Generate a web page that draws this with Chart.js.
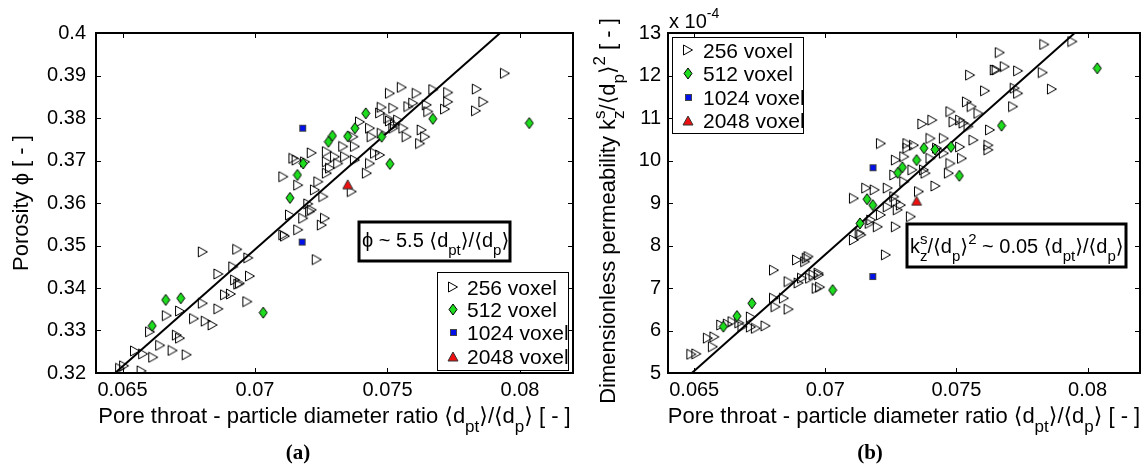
<!DOCTYPE html>
<html>
<head>
<meta charset="utf-8">
<script src="https://cdn.jsdelivr.net/npm/chart.js@4.4.0/dist/chart.umd.min.js"></script>
<style>
  body { margin: 0; background: #fff; width: 1145px; height: 467px; overflow: hidden; position: relative; }
  .panel { position: absolute; top: 0; height: 467px; }
</style>
</head>
<body>
<div class="panel" style="left:0;width:580px"><canvas id="porosity" width="580" height="467"></canvas></div>
<div class="panel" style="left:580px;width:565px"><canvas id="perm" width="565" height="467"></canvas></div>
<script>
// axis ticks
const xTicks = [0.065, 0.07, 0.075, 0.08];
const xTickLabels = ['0.065', '0.07', '0.075', '0.08'];
const phiTicks = [0.32, 0.33, 0.34, 0.35, 0.36, 0.37, 0.38, 0.39, 0.4];
const phiTickLabels = ['0.32', '0.33', '0.34', '0.35', '0.36', '0.37', '0.38', '0.39', '0.4'];
const permTicks = [5, 6, 7, 8, 9, 10, 11, 12, 13];
const permTickLabels = ['5', '6', '7', '8', '9', '10', '11', '12', '13'];
const seriesNames = ['256 voxel', '512 voxel', '1024 voxel', '2048 voxel'];

// (a) porosity vs <dpt>/<dp>
const phi256 = [[0.06491,0.3211],[0.06506,0.3217],[0.06572,0.3205],[0.06547,0.3252],[0.06578,0.3245],[0.06616,0.3237],
  [0.06604,0.3297],[0.06642,0.3265],[0.06667,0.3335],[0.06689,0.3253],[0.06705,0.3289],[0.06717,0.3282],[0.06717,0.3346],
  [0.06742,0.3243],[0.0677,0.3328],[0.06803,0.3364],[0.06803,0.3485],[0.06814,0.3322],[0.0684,0.3313],[0.06862,0.3351],
  [0.06862,0.3433],[0.06887,0.3384],[0.06909,0.3386],[0.06918,0.345],[0.06933,0.3491],[0.06925,0.3419],[0.06937,0.3409],
  [0.06943,0.3411],[0.06975,0.3471],[0.06981,0.3428],[0.06971,0.3368],[0.07132,0.3572],[0.07113,0.3522],[0.07163,0.3537],
  [0.07943,0.3905],[0.07509,0.3858],[0.07554,0.3872],[0.0761,0.3858],[0.07673,0.3867],[0.07729,0.386],[0.07837,0.3868],
  [0.07862,0.3838],[0.07834,0.3817],[0.07729,0.3838],[0.07717,0.3821],[0.07648,0.3831],[0.07654,0.3815],[0.07579,0.3827],
  [0.07597,0.3835],[0.07478,0.3825],[0.07522,0.3823],[0.07472,0.3812],[0.07503,0.3799],[0.07528,0.3784],[0.07522,0.3776],
  [0.0756,0.3776],[0.07572,0.3756],[0.07629,0.3772],[0.07623,0.374],[0.07642,0.3756],[0.07396,0.3791],[0.07434,0.3776],
  [0.0744,0.3756],[0.07478,0.3764],[0.07371,0.3756],[0.07377,0.3733],[0.07333,0.3733],[0.0734,0.3709],[0.07302,0.3709],
  [0.07271,0.3721],[0.07214,0.3718],[0.07271,0.3697],[0.07283,0.3682],[0.07271,0.367],[0.07314,0.3693],[0.07377,0.3701],
  [0.07422,0.367],[0.07434,0.3693],[0.07472,0.3713],[0.07453,0.3717],[0.07157,0.3701],[0.07163,0.3642],[0.07107,0.3662],
  [0.07239,0.365],[0.07226,0.3631],[0.07258,0.3615],[0.07365,0.3627],[0.07201,0.3598],[0.07208,0.358],[0.07182,0.3564],
  [0.07264,0.3564],[0.07233,0.3467],[0.07107,0.3525],[0.07214,0.3584],[0.07252,0.3548],[0.07509,0.3793],[0.0754,0.3795],
  [0.07145,0.3705],[0.07189,0.3697]];
const phi512 = [[0.06612,0.3311],[0.06663,0.3372],[0.0672,0.3376],[0.07031,0.3342],[0.07418,0.3811],[0.0735,0.3757],
  [0.07377,0.3776],[0.07292,0.3758],[0.07277,0.3744],[0.07671,0.3798],[0.08035,0.3788],[0.07509,0.3692],[0.07182,0.3693],
  [0.0716,0.3666],[0.07132,0.3612],[0.07478,0.3756]];
const phi1024 = [[0.0718,0.3776],[0.07178,0.3508]];
const phi2048 = [[0.0735,0.3644]];
const phiFit = [[0.06472,0.32],[0.07925,0.40]];

// (b) dimensionless permeability (x 10^-4) vs <dpt>/<dp>
const perm256 = [[0.06489,5.44],[0.06508,5.45],[0.06552,5.82],[0.06577,5.85],[0.06571,5.62],[0.06603,6.13],[0.06628,6.15],
  [0.06646,6.21],[0.06672,6.18],[0.06684,6.09],[0.06716,6.32],[0.06716,6.08],[0.06735,6.05],[0.06772,6.11],[0.06804,7.42],
  [0.06804,6.76],[0.0681,6.56],[0.06842,6.76],[0.0686,6.5],[0.0686,7.15],[0.06898,7.12],[0.06892,7.66],[0.06936,7.74],
  [0.06911,7.23],[0.06942,7.23],[0.06955,7.31],[0.06976,7.31],[0.06967,6.99],[0.0698,7.02],[0.07109,8.13],[0.07137,8.25],
  [0.07109,9.11],[0.07156,9.35],[0.07188,9.31],[0.07169,8.52],[0.07175,8.6],[0.06929,7.7],[0.06923,7.62],[0.07552,12.01],
  [0.07609,11.64],[0.07646,12.13],[0.0754,11.38],[0.07558,11.27],[0.07477,11.15],[0.07514,10.95],[0.07489,10.91],
  [0.07527,10.88],[0.07546,10.8],[0.07408,10.95],[0.0737,10.86],[0.07584,11.11],[0.07628,10.72],[0.07565,10.48],
  [0.07622,10.36],[0.07622,10.25],[0.07514,10.32],[0.07521,10.05],[0.07477,9.93],[0.07471,9.7],[0.07452,10.52],
  [0.07401,10.52],[0.07313,10.4],[0.07338,10.36],[0.07313,10.29],[0.07426,10.29],[0.07452,10.17],[0.07401,10.05],
  [0.07376,9.78],[0.07382,9.7],[0.07332,9.78],[0.07301,10.09],[0.07269,10.01],[0.07263,9.66],[0.07301,9.5],[0.0742,9.4],
  [0.07212,10.4],[0.07238,9.35],[0.07263,9.15],[0.07269,9.03],[0.07288,8.95],[0.07326,8.68],[0.07276,8.84],[0.07212,8.72],
  [0.072,8.44],[0.07269,8.44],[0.07238,8.91],[0.07357,9.27],[0.07231,7.78],[0.07131,8.29],[0.06974,7.35],[0.07835,12.73],
  [0.07942,12.8],[0.07665,12.54],[0.07653,12.13],[0.07684,12.21],[0.07735,12.11],[0.07829,12.07],[0.07864,11.68],
  [0.07722,11.7],[0.07735,11.58],[0.07716,11.27]];
const perm512 = [[0.06611,6.09],[0.06663,6.34],[0.0672,6.64],[0.07028,6.95],[0.07132,8.52],[0.07159,9.09],[0.07181,8.95],
  [0.07376,10.29],[0.07418,10.26],[0.07479,10.32],[0.07348,10.01],[0.07294,9.84],[0.07276,9.71],[0.07511,9.64],
  [0.08037,12.17],[0.07672,10.82]];
const perm1024 = [[0.07182,9.83],[0.07181,7.27]];
const perm2048 = [[0.07348,9.05]];
const permFit = [[0.06491,5],[0.07951,13]];

const SANS = '"Liberation Sans", Arial, "DejaVu Sans", sans-serif';

function marker(w, h, paint) {
  const c = document.createElement('canvas');
  c.width = w; c.height = h;
  paint(c.getContext('2d'));
  return c;
}
const mTri = marker(12, 12, g => {
  g.beginPath(); g.moveTo(10.5, 6); g.lineTo(1.5, 1); g.lineTo(1.5, 11); g.closePath();
  g.strokeStyle = '#000'; g.lineWidth = 1; g.stroke();
});
const mDia = marker(10, 13, g => {
  g.beginPath(); g.moveTo(5, 1); g.lineTo(9, 6.5); g.lineTo(5, 12); g.lineTo(1, 6.5); g.closePath();
  g.fillStyle = '#1edc1e'; g.fill(); g.strokeStyle = '#000'; g.lineWidth = 1; g.stroke();
});
const mSq = marker(9, 9, g => {
  g.fillStyle = '#0010e8'; g.fillRect(1, 1, 7, 7);
  g.strokeStyle = '#444'; g.lineWidth = 1; g.strokeRect(1.5, 1.5, 6, 6);
});
const mUp = marker(12, 11, g => {
  g.beginPath(); g.moveTo(6, 1); g.lineTo(11, 10); g.lineTo(1, 10); g.closePath();
  g.fillStyle = '#ee1010'; g.fill(); g.strokeStyle = '#333'; g.lineWidth = 1; g.stroke();
});
const markers = [mTri, mDia, mSq, mUp];

// text with sub/superscripts: [text, shift(-1 sub, 1 sup), noAdvance]
function rich(ctx, parts, x, y, size, align) {
  const small = Math.round(size * 0.75);
  let w = 0;
  parts.forEach(p => {
    ctx.font = (p[1] ? small : size) + 'px ' + SANS;
    if (!p[2]) w += ctx.measureText(p[0]).width;
  });
  let cx = align === 'center' ? x - w / 2 : x;
  ctx.textAlign = 'left';
  ctx.textBaseline = 'alphabetic';
  parts.forEach(p => {
    ctx.font = (p[1] ? small : size) + 'px ' + SANS;
    const dy = p[1] === -1 ? size * 0.42 : p[1] === 1 ? -size * 0.45 : 0;
    ctx.fillText(p[0], cx, y + dy);
    if (!p[2]) cx += ctx.measureText(p[0]).width;
  });
}

const xTitle = [['Pore throat - particle diameter ratio \u27E8d', 0], ['pt', -1], ['\u27E9/\u27E8d', 0], ['p', -1], ['\u27E9 [ - ]', 0]];

function decor(opt) {
  return {
    id: 'decor',
    afterDraw(chart) {
      const ctx = chart.ctx, a = chart.chartArea;
      const sx = chart.scales.x, sy = chart.scales.y;
      ctx.save();
      ctx.strokeStyle = '#000';
      ctx.fillStyle = '#000';
      // inward ticks on all sides
      ctx.lineWidth = 1;
      ctx.beginPath();
      sx.ticks.forEach(t => {
        const px = Math.round(sx.getPixelForValue(t.value)) + 0.5;
        ctx.moveTo(px, a.bottom); ctx.lineTo(px, a.bottom - 5);
        ctx.moveTo(px, a.top); ctx.lineTo(px, a.top + 5);
      });
      sy.ticks.forEach(t => {
        const py = Math.round(sy.getPixelForValue(t.value)) + 0.5;
        ctx.moveTo(a.left, py); ctx.lineTo(a.left + 5, py);
        ctx.moveTo(a.right, py); ctx.lineTo(a.right - 5, py);
      });
      ctx.stroke();
      // frame
      ctx.lineWidth = 2;
      ctx.strokeRect(a.left, a.top, a.right - a.left, a.bottom - a.top);

      // annotation box
      const b = opt.note;
      ctx.fillStyle = '#fff';
      ctx.fillRect(b.x0, b.y0, b.x1 - b.x0, b.y1 - b.y0);
      ctx.lineWidth = 3;
      ctx.strokeRect(b.x0, b.y0, b.x1 - b.x0, b.y1 - b.y0);
      ctx.fillStyle = '#000';
      rich(ctx, b.text, b.tx, b.ty, 20, 'left');

      // legend
      const L = opt.legend;
      ctx.fillStyle = '#fff';
      ctx.fillRect(L.x0, L.y0, L.x1 - L.x0, L.y1 - L.y0);
      ctx.lineWidth = 1;
      ctx.strokeRect(L.x0 + 0.5, L.y0 + 0.5, L.x1 - L.x0, L.y1 - L.y0);
      ctx.fillStyle = '#000';
      ctx.font = '21px ' + SANS;
      ctx.textAlign = 'left';
      ctx.textBaseline = 'alphabetic';
      seriesNames.forEach((name, i) => {
        const m = markers[i], ry = L.rows[i];
        ctx.drawImage(m, Math.round(L.mx - m.width / 2), Math.round(ry - m.height / 2));
        ctx.fillText(name, L.tx, ry + 7.5);
      });

      // axis titles
      rich(ctx, xTitle, (a.left + a.right) / 2, 423, 22, 'center');
      ctx.save();
      ctx.translate(opt.yTitleX, (a.top + a.bottom) / 2 + (opt.yTitleShift || 0));
      ctx.rotate(-Math.PI / 2);
      rich(ctx, opt.yTitle, 0, 0, 22, 'center');
      ctx.restore();

      if (opt.exponent) {
        ctx.font = '20px ' + SANS;
        ctx.fillText('x 10', opt.exponent.x, opt.exponent.y);
        const w = ctx.measureText('x 10').width;
        ctx.font = '14px ' + SANS;
        ctx.fillText('-4', opt.exponent.x + w, opt.exponent.y - 10);
      }

      // panel label
      ctx.font = 'bold 21px "Liberation Serif", "Times New Roman", serif';
      ctx.textAlign = 'center';
      ctx.fillText(opt.panel, opt.panelX, 459);
      ctx.restore();
    }
  };
}

function pts(arr) { return arr.map(p => ({ x: p[0], y: p[1] })); }

function makeChart(id, s256, s512, s1024, s2048, fit, yTicks, yLabels, yWidth, yPad, padRight, opt) {
  new Chart(document.getElementById(id), {
    type: 'scatter',
    data: {
      datasets: [
        { label: seriesNames[3], data: pts(s2048), pointStyle: mUp },
        { label: seriesNames[2], data: pts(s1024), pointStyle: mSq },
        { label: seriesNames[1], data: pts(s512), pointStyle: mDia },
        { label: 'fit', data: pts(fit), showLine: true, borderColor: '#000', borderWidth: 2, pointRadius: 0 },
        { label: seriesNames[0], data: pts(s256), pointStyle: mTri }
      ]
    },
    options: {
      responsive: false,
      animation: false,
      layout: { padding: { left: 0, top: 33, right: padRight, bottom: 0 } },
      plugins: { legend: { display: false }, tooltip: { enabled: false } },
      scales: {
        x: {
          type: 'linear', min: 0.064, max: 0.082,
          grid: { display: false, drawTicks: false }, border: { display: false },
          afterBuildTicks: s => { s.ticks = xTicks.map(v => ({ value: v })); },
          afterFit: s => { s.height = 94; },
          ticks: { color: '#000', font: { family: SANS, size: 20 }, padding: 5, maxRotation: 0, autoSkip: false,
            callback: (v, i) => xTickLabels[i] }
        },
        y: {
          type: 'linear', min: yTicks[0], max: yTicks[yTicks.length - 1],
          grid: { display: false, drawTicks: false }, border: { display: false },
          afterBuildTicks: s => { s.ticks = yTicks.map(v => ({ value: v })); },
          afterFit: s => { s.width = yWidth; },
          ticks: { color: '#000', font: { family: SANS, size: 20 }, padding: yPad, autoSkip: false,
            callback: (v, i) => yLabels[i] }
        }
      }
    },
    plugins: [decor(opt)]
  });
}

makeChart('porosity', phi256, phi512, phi1024, phi2048, phiFit, phiTicks, phiTickLabels, 96, 10, 7, {
  note: { x0: 359, y0: 222, x1: 510, y1: 261, tx: 362, ty: 247,
    text: [['\u03D5 ~ 5.5 \u27E8d', 0], ['pt', -1], ['\u27E9/\u27E8d', 0], ['p', -1], ['\u27E9', 0]] },
  legend: { x0: 437, y0: 272, x1: 568, y1: 370, mx: 453, tx: 467, rows: [287, 309, 332, 356] },
  yTitle: [['Porosity \u03D5 [ - ]', 0]],
  yTitleX: 28,
  panel: '(a)', panelX: 298
});

makeChart('perm', perm256, perm512, perm1024, perm2048, permFit, permTicks, permTickLabels, 88, 7, 1, {
  note: { x0: 327, y0: 224, x1: 546, y1: 267, tx: 330, ty: 253,
    text: [['k', 0], ['s', 1, true], ['z', -1], ['/\u27E8d', 0], ['p', -1], ['\u27E9', 0], ['2', 1], [' ~ 0.05 \u27E8d', 0],
      ['pt', -1], ['\u27E9/\u27E8d', 0], ['p', -1], ['\u27E9', 0]] },
  legend: { x0: 92, y0: 37, x1: 223, y1: 133, mx: 108, tx: 123, rows: [50, 73, 97, 120] },
  yTitle: [['Dimensionless permeability k', 0], ['s', 1, true], ['z', -1], ['/\u27E8d', 0], ['p', -1], ['\u27E9', 0], ['2', 1], [' [ - ]', 0]],
  yTitleX: 35, yTitleShift: 8,
  exponent: { x: 89, y: 28 },
  panel: '(b)', panelX: 290
});
</script>
</body>
</html>
